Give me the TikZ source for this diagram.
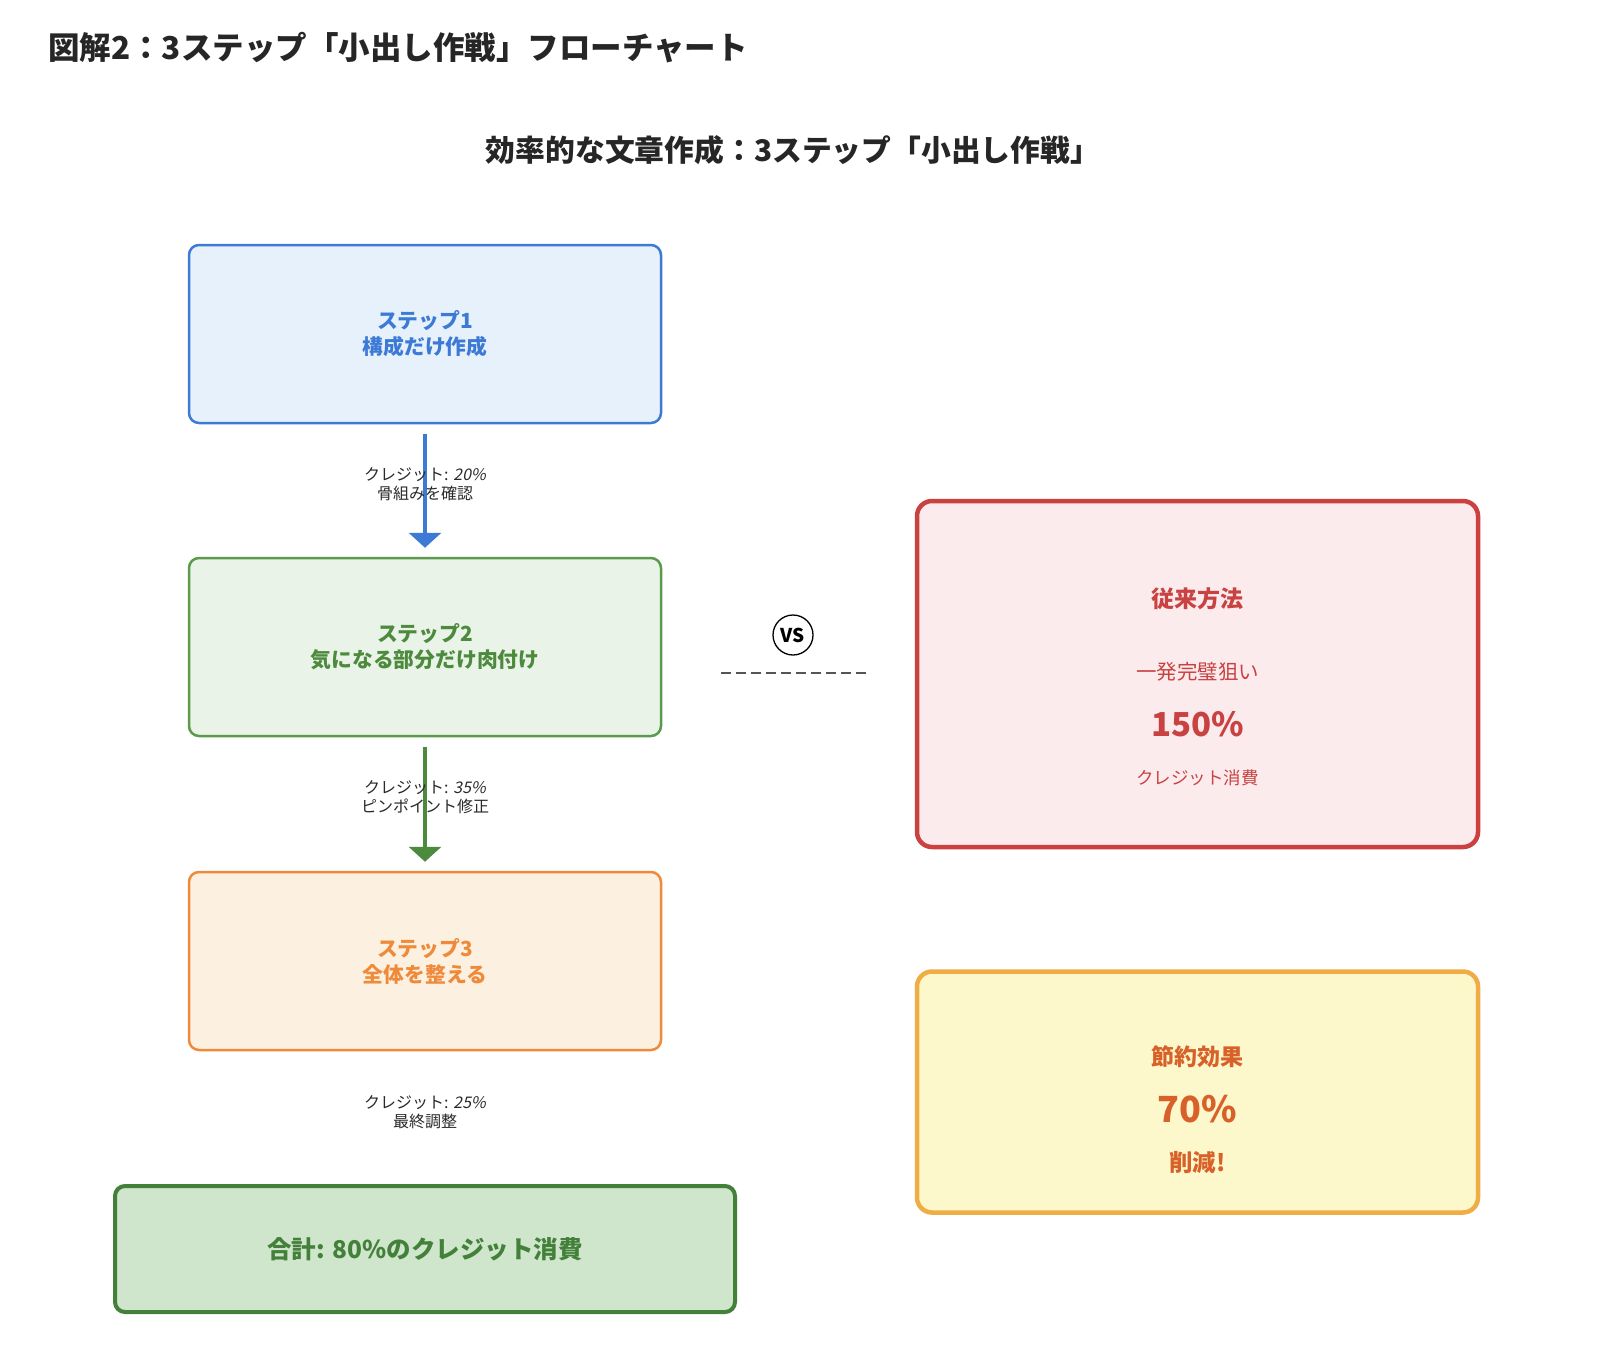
\documentclass[tikz,border=0pt]{standalone}
\usepackage{fontspec}
\setmainfont{Noto Sans CJK JP}
\newfontfamily\slantfont[FakeSlant=0.2]{Noto Sans CJK JP}
\usetikzlibrary{arrows.meta}
\definecolor{bluebd}{HTML}{3C7AD6}
\definecolor{bluefill}{HTML}{E6F1FB}
\definecolor{greenbd}{HTML}{5A9A4B}
\definecolor{greenfill}{HTML}{EAF3E7}
\definecolor{greenarr}{HTML}{4C8A3E}
\definecolor{orangebd}{HTML}{EE8A3A}
\definecolor{orangefill}{HTML}{FCF1E1}
\definecolor{totalbd}{HTML}{43813A}
\definecolor{totalfill}{HTML}{CFE5CC}
\definecolor{redbd}{HTML}{CC4040}
\definecolor{redfill}{HTML}{FCEBED}
\definecolor{redtxt}{HTML}{C94242}
\definecolor{yelbd}{HTML}{F0AC45}
\definecolor{yelfill}{HTML}{FDF8CB}
\definecolor{yeltxt}{HTML}{D8612A}
\definecolor{labtxt}{HTML}{2A2A2A}
\definecolor{dashgray}{HTML}{555555}
\begin{document}
\begin{tikzpicture}[x=1pt,y=-1pt,
  stepbox/.style={draw,rounded corners=10pt,line width=2.5pt,minimum width=472pt,minimum height=178pt,inner sep=0pt,align=center,font=\fontsize{20.8}{26}\selectfont\bfseries},
  lab/.style={align=center,text=labtxt,inner sep=0pt,font=\fontsize{16}{19}\selectfont},
  flowarrow/.style={line width=4pt,-{Triangle[width=32pt,length=15pt]}},
  bigbox/.style={draw,rounded corners=15pt,line width=4.5pt,minimum width=561pt,inner sep=0pt}
]
\fill[white] (0,0) rectangle (1600,1360);
\useasboundingbox (0,0) rectangle (1600,1360);

\node[anchor=west,inner sep=0pt,font=\fontsize{31.5}{38}\selectfont\bfseries,text=black!85] (title) at (48,48) {図解2：3ステップ「小出し作戦」フローチャート};
\node[inner sep=0pt,font=\fontsize{29.8}{36}\selectfont\bfseries,text=black!85] (subtitle) at (793,150) {効率的な文章作成：3ステップ「小出し作戦」};

\node[stepbox,fill=bluefill,draw=bluebd,text=bluebd] (s1) at (425,334) {ステップ1\\構成だけ作成};
\node[stepbox,fill=greenfill,draw=greenbd,text=greenarr] (s2) at (425,647) {ステップ2\\気になる部分だけ肉付け};
\node[stepbox,fill=orangefill,draw=orangebd,text=orangebd] (s3) at (425,961) {ステップ3\\全体を整える};

\draw[flowarrow,draw=bluebd,fill=bluebd] ([yshift=-10pt]s1.south) -- ([yshift=9pt]s2.north);
\draw[flowarrow,draw=greenarr,fill=greenarr] ([yshift=-10pt]s2.south) -- ([yshift=9pt]s3.north);

\node[lab] (l1) at (425,484.5) {クレジット: {\slantfont 20\%}\\骨組みを確認};
\node[lab] (l2) at (425,797) {クレジット: {\slantfont 35\%}\\ピンポイント修正};
\node[lab] (l3) at (425,1112) {クレジット: {\slantfont 25\%}\\最終調整};

\node[draw=totalbd,fill=totalfill,rounded corners=10pt,line width=4pt,minimum width=620pt,minimum height=126pt,inner sep=0pt,text=totalbd,font=\fontsize{24.5}{28}\selectfont\bfseries] (total) at (425,1249) {合計: 80\%のクレジット消費};

\node[draw=black,circle,line width=1.3pt,minimum size=40pt,inner sep=0pt,font=\fontsize{19}{22}\selectfont\bfseries] (vs) at (793,635) {VS};
\coordinate (dl) at (721,673);
\coordinate (dr) at (868,673);
\draw[dashgray,line width=2.5pt,dash pattern=on 10pt off 5pt] (dl) -- (dr);

\node[bigbox,draw=redbd,fill=redfill,minimum height=346pt] (old) at (1197.5,674) {};
\node[text=redtxt,font=\fontsize{23}{28}\selectfont\bfseries] (oldt) at (1197.5,599) {従来方法};
\node[text=redtxt,font=\fontsize{20.5}{24}\selectfont] (oldd) at (1197.5,672) {一発完璧狙い};
\node[text=redtxt,font=\fontsize{33}{38}\selectfont\bfseries] (oldp) at (1197.5,724) {150\%};
\node[text=redtxt,font=\fontsize{17.5}{21}\selectfont] (oldc) at (1197.5,778) {クレジット消費};

\node[bigbox,draw=yelbd,fill=yelfill,minimum height=241pt] (save) at (1197.5,1092) {};
\node[text=yeltxt,font=\fontsize{23}{28}\selectfont\bfseries] (savet) at (1197.5,1057) {節約効果};
\node[text=yeltxt,font=\fontsize{36}{42}\selectfont\bfseries] (savep) at (1197.5,1109) {70\%};
\node[text=yeltxt,font=\fontsize{23.5}{28}\selectfont\bfseries] (savec) at (1197.5,1163) {削減!};
\end{tikzpicture}
\end{document}
